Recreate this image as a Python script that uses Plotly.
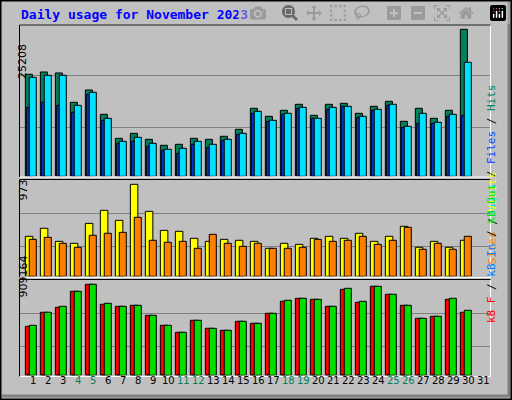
import plotly.graph_objects as go

days = list(range(1, 31))
day_labels = [str(d) for d in range(1, 32)]
weekend_days = [4, 5, 11, 12, 18, 19, 25, 26]

hits = [17491,17891,17720,12690,14805,10632,6516,7374,6345,5316,5487,6516,6345,6859,8060,
        11661,10289,11318,12347,10460,12347,12518,10803,12004,12861,9431,11661,9946,11318,25208]
pages = [16977,17320,17320,12175,14404,9946,6002,6688,5659,4630,4801,6002,5487,6345,7374,
         11146,9603,10803,11832,9946,11832,12004,10289,11489,12347,8574,10803,9260,10632,19549]
files = [11832,12690,12175,10975,14061,9603,5659,6002,5144,4458,3944,5487,4973,6173,7202,
         10803,9431,10632,11661,9946,11489,12004,10117,11318,12175,8403,9088,9088,10289,10460]
visits = [423,508,370,349,560,698,592,973,687,486,476,402,370,391,381,370,296,349,338,402,
          423,402,455,370,423,529,307,370,307,381]
sites = [391,412,349,307,434,455,465,624,381,360,370,296,444,349,317,349,296,296,307,391,
         370,381,423,338,381,518,286,349,286,423]
kb_f = [489500,629400,679300,839200,909100,709300,689300,699300,599400,499500,429600,549500,
        469500,449600,539500,519500,619400,739300,769200,759200,689300,859100,729300,889100,
        809200,699300,569400,589400,759200,629400]
kb_out = [499500,629400,689300,839200,909164,719300,689300,699300,599400,499500,429600,549500,
          469500,449600,539500,519500,619400,749300,769200,759200,689300,869100,739300,889100,
          809200,699300,569400,589400,769200,649400]
kb_in = [3000]*30

grid_top = [8403, 17205]
grid_mid = [317, 666]
grid_bot = [289700, 619400]

W, H = 512, 400
def py(p): return 1 - p / H

fig = go.Figure()
line = dict(color="black", width=1)
def bar(x, y, color, off, w, ax):
    fig.add_trace(go.Bar(x=x, y=y, marker=dict(color=color, line=line), offset=off, width=w,
                         xaxis="x" + ax, yaxis="y" + ax, showlegend=False, hoverinfo="skip"))

bar(days, hits, "#00805c", -0.51, 0.47, "")
bar(days, files, "#0040ff", -0.42, 0.17, "")
bar(days, pages, "#00e0ff", -0.25, 0.47, "")
bar(days, visits, "#ffff00", -0.51, 0.5, "2")
bar(days, sites, "#ff8000", -0.25, 0.47, "2")
bar(days, kb_f, "#ff0000", -0.51, 0.5, "3")
bar(days, kb_in, "#0080ff", -0.42, 0.17, "3")
bar(days, kb_out, "#00e000", -0.25, 0.47, "3")

xr = [1 - 13 / 15, 1 + 457 / 15]
xd = [20 / W, 490 / W]
ax_common = dict(range=xr, domain=xd, showticklabels=False, showgrid=False, zeroline=False, fixedrange=True)
yc = dict(showticklabels=False, zeroline=False, showgrid=True, gridcolor="#808080", gridwidth=1)
fig.update_layout(
    width=W, height=H, margin=dict(l=0, r=0, t=0, b=0),
    paper_bgcolor="#c0c0c0", plot_bgcolor="#c0c0c0", barmode="overlay",
    xaxis=dict(**ax_common, anchor="y"),
    xaxis2=dict(**ax_common, anchor="y2"),
    xaxis3=dict(**ax_common, anchor="y3"),
    yaxis=dict(**yc, domain=[py(176.3), py(25)], range=[0, 25948], tickvals=grid_top),
    yaxis2=dict(**yc, domain=[py(276.3), py(180.3)], range=[0, 1015.6], tickvals=grid_mid),
    yaxis3=dict(**yc, domain=[py(375.3), py(280.7)], range=[0, 945000], tickvals=grid_bot),
)

shapes = [
    dict(type="path", xref="paper", yref="paper",
         path=f"M {2/W} {py(396)} L {509/W} {py(396)} L {509/W} {py(2)}",
         line=dict(color="#808080", width=3)),
    dict(type="rect", xref="paper", yref="paper", x0=0.001, x1=0.999, y0=0.001, y1=0.999,
         line=dict(color="black", width=2)),
]
for top, bot in [(25, 177), (179.5, 277.5), (279.5, 376.5)]:
    shapes.append(dict(type="rect", xref="paper", yref="paper", x0=19.5 / W, x1=490.5 / W,
                       y0=py(bot), y1=py(top), line=dict(color="white", width=1)))
    shapes.append(dict(type="path", xref="paper", yref="paper",
                       path=f"M {19.5/W} {py(bot)} L {19.5/W} {py(top)} L {490.5/W} {py(top)}",
                       line=dict(color="black", width=1)))
fig.update_layout(shapes=shapes)

ann = [dict(text="<b>Daily usage for November 2023</b>", xref="paper", yref="paper",
            x=19 / W, y=py(15), xanchor="left", yanchor="middle", showarrow=False,
            font=dict(family="DejaVu Sans Mono", size=13, color="#0000ff"))]
for t, c in [("25208", 42), ("973", 190), ("909164", 300)]:
    ann.append(dict(text=t, xref="paper", yref="paper", x=14 / W, y=py(c), textangle=-90,
                    showarrow=False, font=dict(family="DejaVu Sans", size=11, color="black")))
sep = "<span style='color:#000000'> / </span>"
right = [
    ("<span style='color:#00e0ff'>Pages</span>" + sep + "<span style='color:#0040ff'>Files</span>" + sep +
     "<span style='color:#00805c'>Hits</span>", 82),
    ("<span style='color:#ff8000'>Sites</span>" + sep + "<span style='color:#ffff00'>Visits</span>", 218),
    ("<span style='color:#ff0000'>kB F</span>" + sep + "<span style='color:#0080ff'>kB In</span>" + sep +
     "<span style='color:#00e000'>kB Out</span>", 325),
]
for t, c in right:
    ann.append(dict(text=t, xref="paper", yref="paper", x=500 / W, y=py(c), textangle=-90,
                    showarrow=False, font=dict(family="DejaVu Sans Mono", size=11)))
for i, lab in enumerate(day_labels):
    d = i + 1
    col = "#00805c" if d in weekend_days else "black"
    ann.append(dict(text=lab, xref="x3", yref="paper", x=d, y=py(388), showarrow=False,
                    font=dict(family="DejaVu Sans", size=10, color=col)))
fig.update_layout(annotations=ann)

fig.write_html("out.html", post_script="document.body.style.margin='0';document.body.style.padding='0';")
